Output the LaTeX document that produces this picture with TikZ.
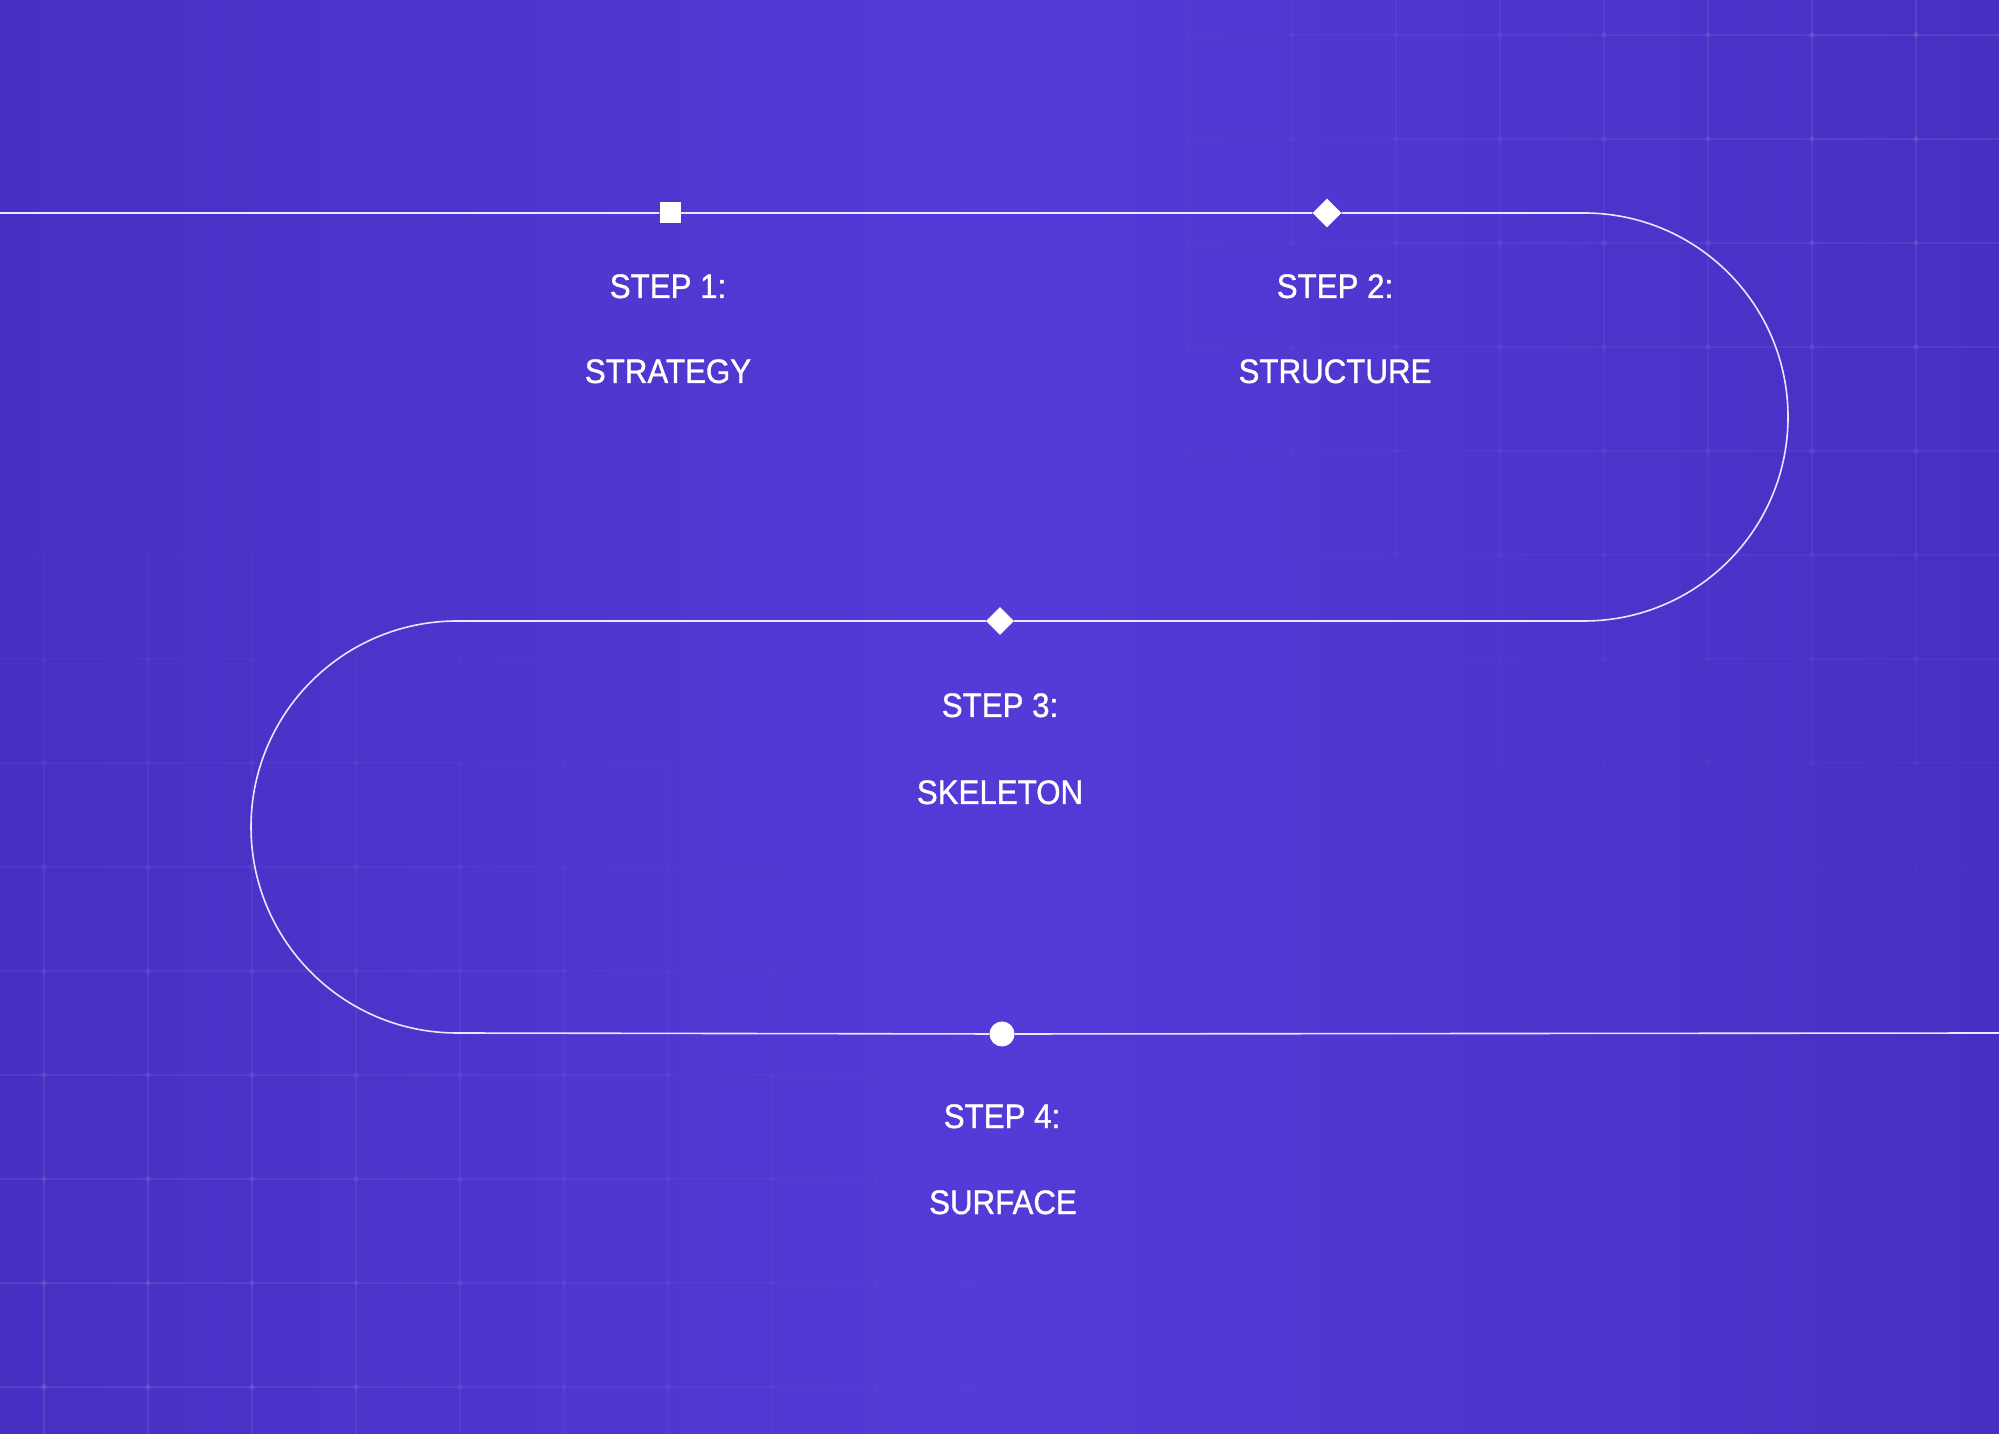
\documentclass[tikz,border=0pt]{standalone}
\usepackage{fontspec}
\setmainfont{Liberation Sans}[FakeStretch=0.92, FakeBold=1.0]
\usepackage{tikz}
\usetikzlibrary{shapes.geometric}
\definecolor{bgedge}{RGB}{70, 48, 194}
\definecolor{bgmid}{RGB}{84, 59, 216}
\definecolor{pathwhite}{RGB}{234, 230, 255}

\begin{document}
\begin{tikzpicture}[x=1pt, y=1pt,
        pathline/.style={line width=1.6pt, pathwhite},
        marker/.style={fill=white, draw=none, inner sep=0pt},
        steptext/.style={text=white, anchor=base, inner sep=0pt, font=\fontsize{34}{40}\selectfont}]
        \useasboundingbox (0,0) rectangle (1999,1433);

        % 背景渐变
        \shade[left color=bgedge, right color=bgedge, middle color=bgmid] (0,0) rectangle (1999,1433);

        % 网格 (角落可见, 中间淡出)
        \begin{scope}
            \clip (0,0) rectangle (1999,1433);
            \foreach \i in {-1,...,19} {
                \foreach \j in {-1,...,13} {
                    \pgfmathsetmacro{\gx}{44+104*\i}
                    \pgfmathsetmacro{\gy}{46+104*\j}
                    \pgfmathsetmacro{\op}{max(0, 1 - min(veclen(\gx-1999, \gy-1433), veclen(\gx, \gy))/1000)*0.09}
                    \draw[white, opacity=\op, line width=1.2pt] (\gx,\gy) -- (\gx,\gy+104) (\gx,\gy) -- (\gx+104,\gy);
                    \fill[white, opacity=\op] (\gx,\gy) circle (3);
                }
            }
        \end{scope}

        % 路径上的标记
        \node[marker, minimum size=21pt] (m1) at (670,1220) {};
        \node[marker, diamond, minimum size=29pt] (m2) at (1327,1220) {};
        \node[marker, diamond, minimum size=28pt] (m3) at (1000,812) {};
        \node[marker, circle, minimum size=25pt] (m4) at (1002,399) {};

        \coordinate (start) at (0,1220);
        \coordinate (turnR) at (1584,1220);
        \coordinate (turnL) at (457,812);
        \coordinate (finish) at (1999,400);

        % 蛇形路径
        \draw[pathline] (start) -- (m1) -- (m2) -- (turnR) arc[start angle=90, end angle=-90, radius=204] -- (m3) -- (turnL) arc[start angle=90, end angle=270, radius=206] -- (m4) -- (finish);

        % 步骤文字
        \node[steptext] (s1) at (668,1135) {STEP 1:};
        \node[steptext] (n1) at (668,1050) {STRATEGY};
        \node[steptext] (s2) at (1335,1135) {STEP 2:};
        \node[steptext] (n2) at (1335,1050) {STRUCTURE};
        \node[steptext] (s3) at (1000,716) {STEP 3:};
        \node[steptext] (n3) at (1000,629) {SKELETON};
        \node[steptext] (s4) at (1002,305) {STEP 4:};
        \node[steptext] (n4) at (1003,219) {SURFACE};
    \end{tikzpicture}
\end{document}
